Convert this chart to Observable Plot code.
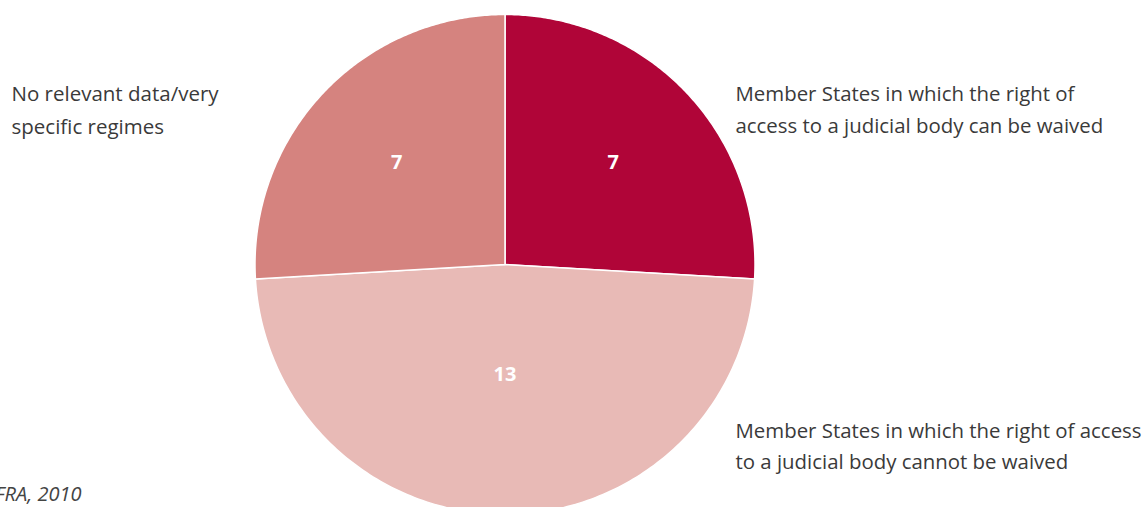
<!DOCTYPE html>
<html>
<head>
<meta charset="utf-8">
<script src="https://cdn.jsdelivr.net/npm/d3@7"></script>
<script src="https://cdn.jsdelivr.net/npm/@observablehq/plot@0.6"></script>
<style>
  html, body { margin: 0; padding: 0; background: #fff; }
  #chart { width: 1144px; height: 507px; overflow: hidden; }
</style>
</head>
<body>
<div id="chart"></div>
<script>
// Data
const categories = [
  "Member States in which the right of access to a judicial body can be waived",
  "Member States in which the right of access to a judicial body cannot be waived",
  "No relevant data/very specific regimes"
];
const values = [7, 13, 7];
const colors = ["#b00538", "#e8bab6", "#d5837f"];
const caption = "Source: FRA, 2010";

// Pie geometry (unit radius, angles clockwise from 12 o'clock)
const pie = d3.pie().sort(null).value(d => d.value);
const arcs = pie(categories.map((c, i) => ({category: c, value: values[i]})));

const polys = [];
arcs.forEach(a => {
  const n = 180;
  polys.push({category: a.data.category, x: 0, y: 0});
  for (let k = 0; k <= n; k++) {
    const t = a.startAngle + (a.endAngle - a.startAngle) * k / n;
    polys.push({category: a.data.category, x: Math.sin(t), y: Math.cos(t)});
  }
});

// labels at sector centroid
const labels = arcs.map(a => {
  const half = (a.endAngle - a.startAngle) / 2;
  const mid = a.startAngle + half;
  const rc = 2 * Math.sin(half) / (3 * half);
  return {value: a.data.value, x: rc * Math.sin(mid), y: rc * Math.cos(mid)};
});

const font = "'Open Sans', sans-serif";
const textColor = "#3a3a3a";

const chart = Plot.plot({
  width: 1144,
  height: 507,
  margin: 0,
  style: {fontFamily: font, background: "#fff", overflow: "visible"},
  x: {domain: [-2.018, 2.558], axis: null},
  y: {domain: [-0.972, 1.056], axis: null},
  color: {domain: categories, range: colors},
  marks: [
    Plot.line(polys, {x: "x", y: "y", z: "category", fill: "category", stroke: "white", strokeWidth: 1.5, curve: "linear-closed"}),
    Plot.text(labels, {x: "x", y: "y", text: d => String(d.value), fill: "white", fontSize: 20, fontWeight: "bold"}),
    Plot.text([categories[2]], {frameAnchor: "top-left", dx: 11, dy: 78, text: () => "No relevant data/very\nspecific regimes", textAnchor: "start", lineAnchor: "top", lineHeight: 1.58, fontSize: 20.5, fill: textColor}),
    Plot.text([categories[0]], {frameAnchor: "top-left", dx: 735, dy: 78, text: () => "Member States in which the right of\naccess to a judicial body can be waived", textAnchor: "start", lineAnchor: "top", lineHeight: 1.55, fontSize: 20.4, fill: textColor}),
    Plot.text([categories[1]], {frameAnchor: "top-left", dx: 735, dy: 415, text: () => "Member States in which the right of access\nto a judicial body cannot be waived", textAnchor: "start", lineAnchor: "top", lineHeight: 1.53, fontSize: 20.4, fill: textColor}),
    Plot.text([caption], {frameAnchor: "top-left", dx: 81, dy: 494, text: d => d, textAnchor: "end", lineAnchor: "middle", fontSize: 20, fontStyle: "italic", fill: "#444"})
  ]
});
document.getElementById("chart").appendChild(chart);
</script>
</body>
</html>
